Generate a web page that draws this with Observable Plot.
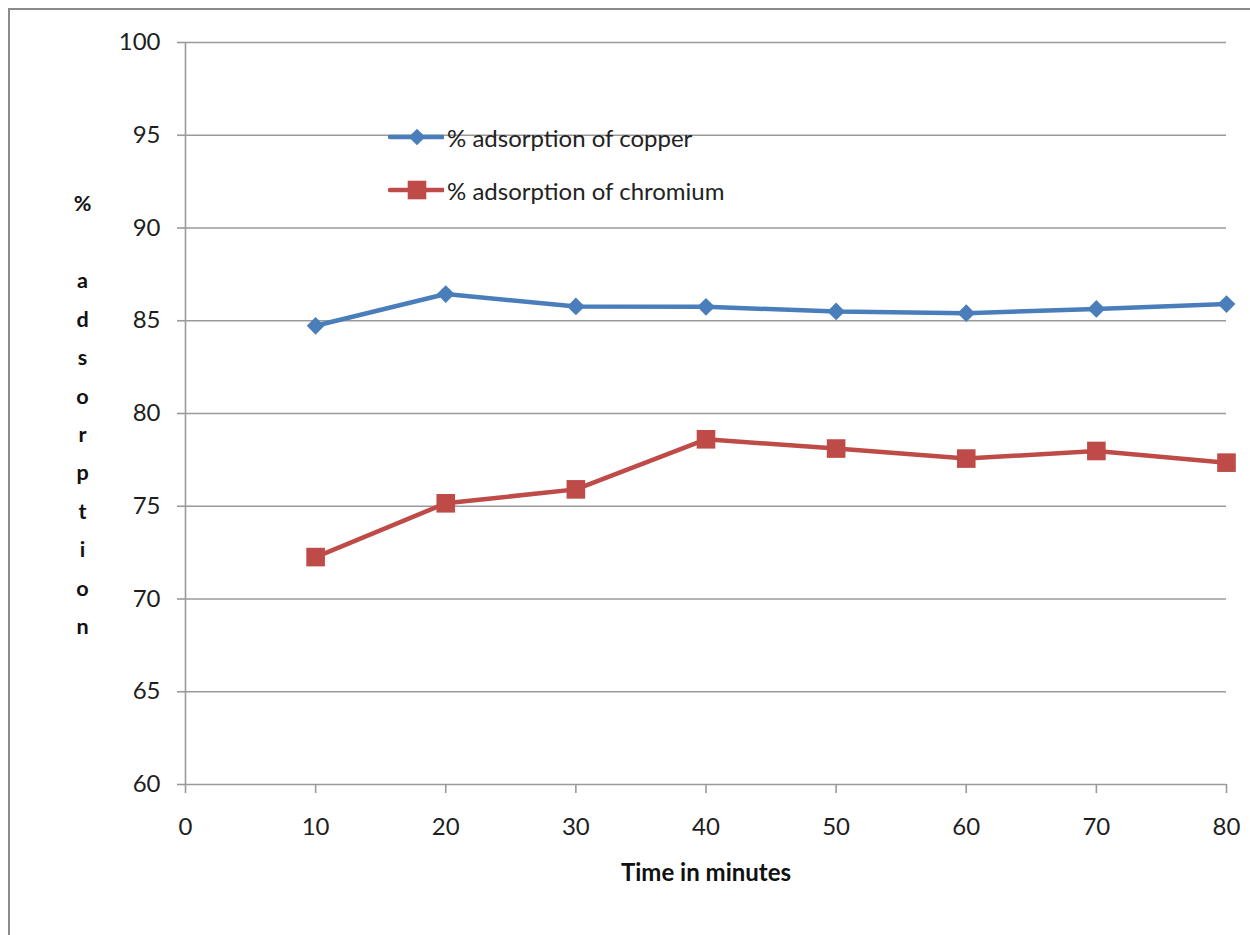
<!DOCTYPE html>
<html>
<head>
<meta charset="utf-8">
<script src="https://cdn.jsdelivr.net/npm/d3@7"></script>
<script src="https://cdn.jsdelivr.net/npm/@observablehq/plot@0.6"></script>
<style>
  html, body { margin: 0; padding: 0; background: #fff; }
  #wrap { position: relative; width: 1250px; height: 935px; overflow: hidden; font-family: Lato, "Open Sans", sans-serif; }
  #frame { position: absolute; left: 8px; top: 8px; width: 1300px; height: 1000px; border-left: 2px solid #8a8a8a; border-top: 2px solid #8a8a8a; pointer-events: none; }
  #legend { position: absolute; left: 388px; top: 120px; font-size: 24px; color: #222; }
  .item { display: flex; align-items: center; height: 34px; margin-bottom: 19px; }
  .item svg { margin-right: 3px; }
</style>
</head>
<body>
<div id="wrap">
  <div id="chart"></div>
  <div id="frame"></div>
  <div id="legend"></div>
</div>
<script>
const times = [10, 20, 30, 40, 50, 60, 70, 80];
const copper = [84.73, 86.44, 85.77, 85.75, 85.5, 85.41, 85.64, 85.9];
const chromium = [72.26, 75.16, 75.91, 78.61, 78.11, 77.57, 77.98, 77.35];
const seriesNames = ["% adsorption of copper", "% adsorption of chromium"];
const seriesColors = ["#4a7ebb", "#be4b48"];
const xTicks = [0, 10, 20, 30, 40, 50, 60, 70, 80];
const yTicks = [60, 65, 70, 75, 80, 85, 90, 95, 100];
const xLabel = "Time in minutes";
const yLabel = "%\n\na\nd\ns\no\nr\np\nt\ni\no\nn";

const rows = [];
times.forEach((t, i) => {
  rows.push({time: t, value: copper[i], series: seriesNames[0]});
  rows.push({time: t, value: chromium[i], series: seriesNames[1]});
});
const cuRows = rows.filter(d => d.series === seriesNames[0]);
const crRows = rows.filter(d => d.series === seriesNames[1]);

const gridColor = "#9a9a9a";
const chart = Plot.plot({
  width: 1250,
  height: 935,
  marginLeft: 185,
  marginRight: 24,
  marginTop: 42,
  marginBottom: 151,
  style: {fontFamily: "Lato, 'Open Sans', sans-serif", background: "transparent"},
  x: {domain: [0, 80]},
  y: {domain: [60, 100]},
  marks: [
    Plot.ruleY(yTicks.filter(v => v > 60), {y: d => d, stroke: gridColor, strokeWidth: 1.6}),
    Plot.ruleY([60], {stroke: gridColor, strokeWidth: 1.6, x1: 0, x2: 80}),
    Plot.ruleX([0], {stroke: gridColor, strokeWidth: 1.6}),
    Plot.axisY({ticks: yTicks, tickSize: 8, tickPadding: 17, stroke: gridColor, strokeWidth: 1.6, fontSize: 24, fill: "#1e1e1e", label: null, tickFormat: d => String(d)}),
    Plot.axisX({ticks: xTicks, tickSize: 9, tickPadding: 24, stroke: gridColor, strokeWidth: 1.6, fontSize: 24, fill: "#1e1e1e", label: null, tickFormat: d => String(d)}),
    Plot.line(crRows, {x: "time", y: "value", stroke: seriesColors[1], strokeWidth: 4.5}),
    Plot.line(cuRows, {x: "time", y: "value", stroke: seriesColors[0], strokeWidth: 4.5}),
    Plot.dot(crRows, {x: "time", y: "value", symbol: "square", r: 10.5, fill: seriesColors[1], stroke: "none"}),
    Plot.dot(cuRows, {x: "time", y: "value", symbol: "diamond2", r: 8, fill: seriesColors[0], stroke: "none"}),
    Plot.text([yLabel], {frameAnchor: "left", dx: -103, dy: -3, text: d => d, textAnchor: "middle", lineAnchor: "middle", lineHeight: 1.78, fontSize: 21.6, fontWeight: "bold", fill: "#111"}),
    Plot.text([xLabel], {frameAnchor: "bottom", dy: 96, text: d => d, textAnchor: "middle", fontSize: 24, fontWeight: "bold", fill: "#111"})
  ]
});
document.getElementById("chart").appendChild(chart);

// Legend
const legend = document.getElementById("legend");
seriesNames.forEach((name, i) => {
  const item = document.createElement("div");
  item.className = "item";
  const ns = "http://www.w3.org/2000/svg";
  const svg = document.createElementNS(ns, "svg");
  svg.setAttribute("width", 56);
  svg.setAttribute("height", 24);
  const line = document.createElementNS(ns, "line");
  line.setAttribute("x1", 2); line.setAttribute("x2", 55);
  line.setAttribute("y1", 12); line.setAttribute("y2", 12);
  line.setAttribute("stroke", seriesColors[i]);
  line.setAttribute("stroke-width", 4.5);
  line.setAttribute("stroke-linecap", "round");
  svg.appendChild(line);
  const sym = document.createElementNS(ns, "path");
  const shape = i === 0 ? d3.symbolDiamond2 : d3.symbolSquare;
  const size = i === 0 ? Math.PI * 7.5 * 7.5 : Math.PI * 10.5 * 10.5;
  sym.setAttribute("d", d3.symbol(shape, size)());
  sym.setAttribute("transform", "translate(29,12)");
  sym.setAttribute("fill", seriesColors[i]);
  svg.appendChild(sym);
  item.appendChild(svg);
  const span = document.createElement("span");
  span.textContent = name;
  item.appendChild(span);
  legend.appendChild(item);
});
</script>
</body>
</html>
